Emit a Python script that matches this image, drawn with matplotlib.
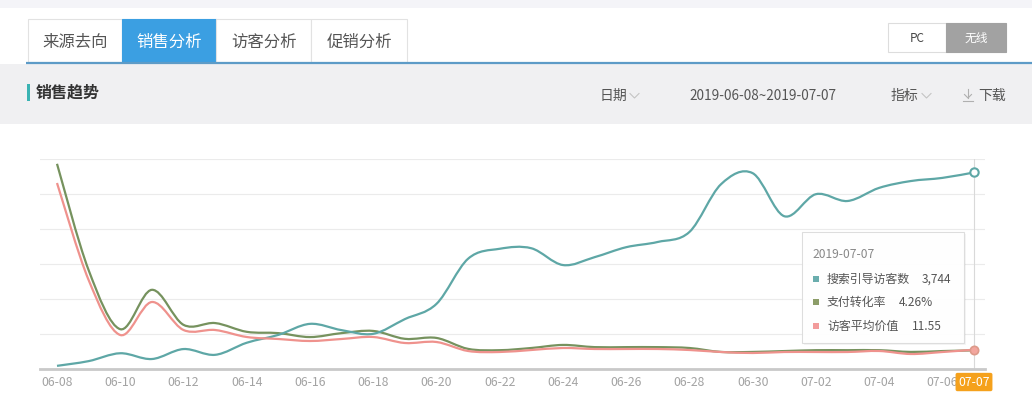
import matplotlib
matplotlib.use('Agg')
import matplotlib.pyplot as plt
from matplotlib.patches import Rectangle, PathPatch
from matplotlib.path import Path
from matplotlib.transforms import blended_transform_factory
import numpy as np

plt.rcParams['font.family'] = ['Noto Sans CJK SC', 'DejaVu Sans']

# data
dates = ['06-08', '06-09', '06-10', '06-11', '06-12', '06-13', '06-14', '06-15',
         '06-16', '06-17', '06-18', '06-19', '06-20', '06-21', '06-22', '06-23',
         '06-24', '06-25', '06-26', '06-27', '06-28', '06-29', '06-30', '07-01',
         '07-02', '07-03', '07-04', '07-05', '07-06', '07-07']
visitors = [60, 150, 300, 190, 380, 270, 500, 650, 860, 740, 670, 950, 1240, 2100,
            2290, 2300, 1980, 2130, 2320, 2420, 2610, 3520, 3730, 2910, 3330, 3200,
            3450, 3580, 3640, 3744]
conversion = [46.9, 22.6, 9.1, 18.1, 10.1, 10.5, 8.5, 8.2, 7.3, 8.2, 8.7, 6.9, 7.1,
              4.6, 4.3, 4.8, 5.5, 5.0, 5.0, 5.0, 4.8, 3.9, 3.9, 4.1, 4.3, 4.3, 4.3,
              3.9, 4.1, 4.26]
avg_value = [111.6, 53.4, 20.4, 40.2, 23.4, 23.4, 19.2, 18.0, 16.8, 18.0, 19.2, 15.6,
             16.2, 10.8, 10.2, 11.4, 12.6, 12.0, 12.0, 12.0, 11.4, 10.2, 9.6, 10.2,
             10.2, 10.2, 10.8, 9.0, 10.2, 11.55]

series_names = ['搜索引导访客数', '支付转化率', '访客平均价值']
series_labels = ['3,744', '4.26%', '11.55']
tabs = ['来源去向', '销售分析', '访客分析', '促销分析']

TEAL = '#5ea7a6'
GREEN = '#76925e'
PINK = '#ef928d'


def smooth_path(xs, ys):
    # catmull-rom style bezier through the points
    pts = np.column_stack([xs, ys]).astype(float)
    n = len(pts)
    verts = [pts[0]]
    codes = [Path.MOVETO]
    for i in range(n - 1):
        p0 = pts[max(i - 1, 0)]
        p1 = pts[i]
        p2 = pts[i + 1]
        p3 = pts[min(i + 2, n - 1)]
        verts += [p1 + (p2 - p0) / 6, p2 - (p3 - p1) / 6, p2]
        codes += [Path.CURVE4] * 3
    return Path(verts, codes)


W, H = 1032, 420
fig = plt.figure(figsize=(W / 100, H / 100), dpi=100)
fig.patch.set_facecolor('white')

# background layer in pixel coords
bg = fig.add_axes([0, 0, 1, 1], zorder=0)
bg.set_xlim(0, W)
bg.set_ylim(H, 0)
bg.axis('off')

bg.add_patch(Rectangle((0, 0), W, 8, facecolor='#f4f4f8', edgecolor='none'))
bg.add_patch(Rectangle((0, 63.5), W, 60.5, facecolor='#f0f0f2', edgecolor='none'))

tab_x = [28, 122, 216, 311]
tab_w = [94, 94, 95, 96]
for i, name in enumerate(tabs):
    active = i == 1
    bg.add_patch(Rectangle((tab_x[i], 19), tab_w[i], 43,
                           facecolor='#3b9fe2' if active else 'white',
                           edgecolor='#3b9fe2' if active else '#e2e2e2', lw=0.8))
    bg.text(tab_x[i] + tab_w[i] / 2, 42, name, ha='center', va='center',
            fontsize=11.8, color='white' if active else '#555555')
bg.plot([26, W], [62.8, 62.8], color='#5d9bc7', lw=1.6, solid_capstyle='butt')

# PC / wireless toggle
bg.add_patch(Rectangle((888, 23), 58, 29, facecolor='white', edgecolor='#dddddd', lw=0.8))
bg.add_patch(Rectangle((946, 23), 60, 29, facecolor='#a2a2a2', edgecolor='#a2a2a2', lw=0.8))
bg.text(917, 38, 'PC', ha='center', va='center', fontsize=8.5, color='#444444')
bg.text(976, 38, '无线', ha='center', va='center', fontsize=8.5, color='white')

# section header
bg.add_patch(Rectangle((27, 84), 3, 17, facecolor='#3ab3b3', edgecolor='none'))
bg.text(36, 93, '销售趋势', ha='left', va='center', fontsize=11.5,
        fontweight='bold', color='#333333')
bg.text(600, 96, '日期', ha='left', va='center', fontsize=10, color='#555555')
bg.plot([630, 634.5, 639], [93.5, 98, 93.5], color='#c4c4c4', lw=0.8)
bg.text(689, 96, '2019-06-08~2019-07-07', ha='left', va='center', fontsize=9.8,
        color='#555555')
bg.text(891, 96, '指标', ha='left', va='center', fontsize=10, color='#555555')
bg.plot([922, 926.5, 931], [93.5, 98, 93.5], color='#c4c4c4', lw=0.8)
bg.plot([968, 968], [89, 98], color='#b0b0b0', lw=0.8)
bg.plot([964.5, 968, 971.5], [94.5, 98, 94.5], color='#b0b0b0', lw=0.8)
bg.plot([963, 973], [101, 101], color='#b0b0b0', lw=0.8)
bg.text(978, 96, '下载', ha='left', va='center', fontsize=10, color='#555555')

# chart area
left, right, top, base = 40, 985, 159, 369
x0_px, x1_px = 57, 974
px_day = (x1_px - x0_px) / (len(dates) - 1)
ax = fig.add_axes([left / W, (H - base) / H, (right - left) / W, (base - top) / H], zorder=1)
ax.patch.set_visible(False)
ax.set_xlim(-(x0_px - left) / px_day, len(dates) - 1 + (right - x1_px) / px_day)
ax.set_ylim(0, 6)
for g in range(1, 7):
    ax.axhline(g, color='#ebebeb', lw=0.8, zorder=0)
for s in ['top', 'right', 'left']:
    ax.spines[s].set_visible(False)
ax.spines['bottom'].set_color('#c9c9c9')
ax.spines['bottom'].set_linewidth(2)
ax.set_yticks([])
idx = list(range(0, len(dates) - 1, 2))
ax.set_xticks(idx)
ax.set_xticklabels([dates[i] for i in idx], fontsize=8.8, color='#a3a3a3')
ax.tick_params(axis='x', length=0, pad=5)
ax.axvline(len(dates) - 1, color='#d9d9d9', lw=0.8)

trans = blended_transform_factory(ax.transData, ax.transAxes)
ax.text(len(dates) - 1, -0.062, dates[-1], transform=trans, ha='center', va='center',
        fontsize=8.8, color='white', zorder=20, clip_on=False,
        bbox=dict(boxstyle='round,pad=0.22,rounding_size=0.15', fc='#f5a11c', ec='none'))

xs = np.arange(len(dates))
for k, (vals, ymax, col) in enumerate([(visitors, 4000, TEAL),
                                        (conversion, 48, GREEN),
                                        (avg_value, 126, PINK)]):
    tw = ax.twinx()
    tw.set_zorder(4 - k)
    tw.set_ylim(0, ymax)
    tw.set_xlim(ax.get_xlim())
    tw.axis('off')
    tw.add_patch(PathPatch(smooth_path(xs, vals), fill=False, edgecolor=col, lw=1.6,
                           clip_on=False))
    if k == 0:
        tw.plot(xs[-1], vals[-1], 'o', mfc='white', mec=col, mew=1.5, ms=6, clip_on=False)
    elif k == 2:
        tw.plot(xs[-1], vals[-1], 'o', mfc='#f3a69e', mec='#dd9a8a', mew=1.2, ms=6,
                clip_on=False)
        tw.set_zorder(5)

# tooltip layer
fg = fig.add_axes([0, 0, 1, 1], zorder=10)
fg.set_xlim(0, W)
fg.set_ylim(H, 0)
fg.axis('off')
fg.add_patch(Rectangle((804, 234), 162, 111, facecolor='#000000', alpha=0.04, edgecolor='none'))
fg.add_patch(Rectangle((802, 232), 162, 111, facecolor='white', alpha=0.97,
                       edgecolor='#dcdcdc', lw=0.8))
fg.text(812, 254, '2019-07-07', ha='left', va='center', fontsize=8.7, color='#888888')
row_y = [279, 302, 326]
val_x = [922, 899, 912]
sq_cols = ['#6aadad', '#8c9d68', '#f29b9b']
for i in range(3):
    fg.add_patch(Rectangle((812.5, row_y[i] - 3), 6, 6, facecolor=sq_cols[i], edgecolor='none'))
    fg.text(827, row_y[i], series_names[i], ha='left', va='center', fontsize=8.6,
            color='#555555')
    fg.text(val_x[i], row_y[i], series_labels[i], ha='left', va='center', fontsize=8.6,
            color='#555555')

fig.savefig('out.png', dpi=100)
